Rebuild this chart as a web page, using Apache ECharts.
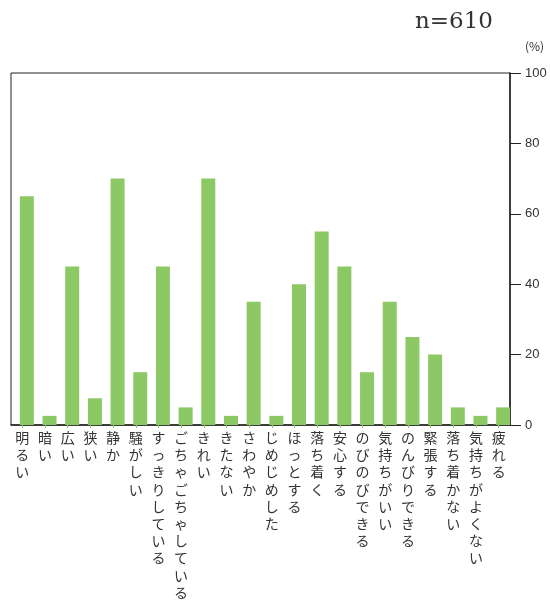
<!DOCTYPE html>
<html>
<head>
<meta charset="utf-8">
<script src="https://cdn.jsdelivr.net/npm/echarts@6/dist/echarts.min.js"></script>
<style>
  html, body { margin: 0; padding: 0; background: #fff; }
  #chart { width: 550px; height: 601px; }
</style>
</head>
<body>
<div id="chart"></div>
<script>
// 項目
const categories = [
  "明るい", "暗い", "広い", "狭い", "静か", "騒がしい", "すっきりしている",
  "ごちゃごちゃしている", "きれい", "きたない", "さわやか", "じめじめした",
  "ほっとする", "落ち着く", "安心する", "のびのびできる", "気持ちがいい",
  "のんびりできる", "緊張する", "落ち着かない", "気持ちがよくない", "疲れる"
];
// 割合(%)
const values = [65, 2.6, 45, 7.6, 70, 15, 45, 5, 70, 2.6, 35, 2.6,
  40, 55, 45, 15, 35, 25, 20, 5, 2.6, 5];
const yTicks = [0, 20, 40, 60, 80, 100];

const chart = echarts.init(document.getElementById("chart"));
chart.setOption({
  animation: false,
  title: {
    text: "n=610",
    right: 52,
    top: 6,
    textStyle: {
      fontFamily: "DejaVu Serif, serif",
      fontWeight: "normal",
      fontSize: 23,
      color: "#333"
    }
  },
  graphic: [
    {
      type: "text",
      left: 525,
      top: 40,
      style: { text: "(%)", fontSize: 12, fill: "#333", fontFamily: "Noto Sans CJK JP" }
    }
  ],
  grid: {
    left: 11,
    right: 40,
    top: 73,
    bottom: 176,
    containLabel: false,
    outerBoundsMode: "none",
    show: true,
    borderColor: "#222",
    borderWidth: 1
  },
  xAxis: {
    type: "category",
    data: categories,
    boundaryGap: true,
    axisLine: { lineStyle: { color: "#222", width: 1.5 } },
    axisTick: { show: true, alignWithLabel: true, length: 3, lineStyle: { color: "#8cc864" } },
    axisLabel: {
      interval: 0,
      margin: 4,
      fontSize: 14,
      lineHeight: 17.2,
      color: "#333",
      verticalAlign: "top",
      fontFamily: "Noto Sans CJK JP",
      formatter: function (val) {
        return val.split("").join("\n");
      }
    }
  },
  yAxis: {
    type: "value",
    position: "right",
    min: 0,
    max: 100,
    interval: 20,
    axisLine: { show: true, lineStyle: { color: "#222", width: 1.5 } },
    axisTick: { show: true, length: 11, lineStyle: { color: "#222" } },
    axisLabel: {
      margin: 15,
      fontSize: 13,
      color: "#333",
      fontFamily: "Liberation Sans Narrow, Liberation Sans, sans-serif",
      formatter: function (v) { return yTicks.indexOf(v) >= 0 ? String(v) : ""; }
    },
    splitLine: { show: false }
  },
  series: [
    // 空の系列: 棒を帯の右寄りに置くため
    { type: "bar", data: [], barWidth: 9, barGap: "0%", silent: true },
    {
      type: "bar",
      data: values,
      barWidth: 14,
      barGap: "0%",
      itemStyle: { color: "#8cc864" }
    }
  ]
});
</script>
</body>
</html>
